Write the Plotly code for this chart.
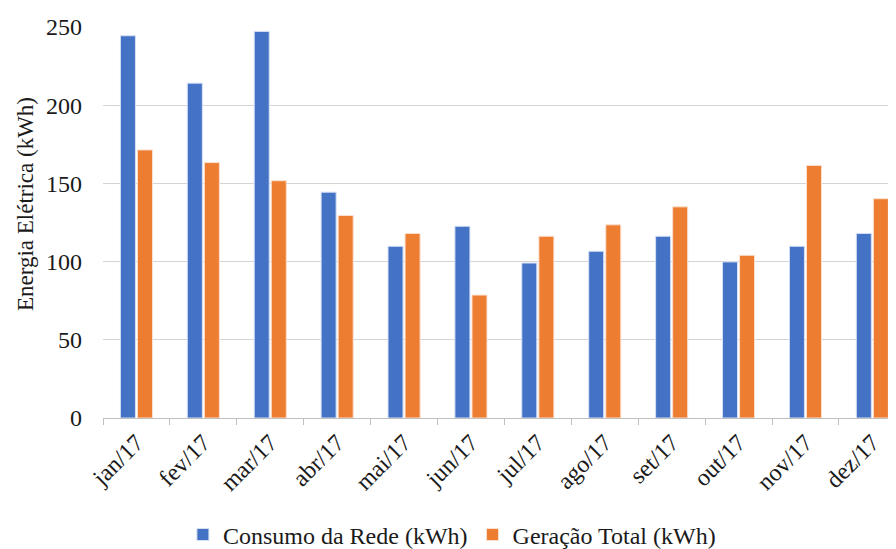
import plotly.graph_objects as go

months = ["jan/17", "fev/17", "mar/17", "abr/17", "mai/17", "jun/17",
          "jul/17", "ago/17", "set/17", "out/17", "nov/17", "dez/17"]
consumo = [244.4, 214.1, 247.2, 144.4, 109.8, 122.6, 99.1, 106.6, 116.2, 99.8, 109.8, 118.0]
geracao = [171.4, 163.3, 151.7, 129.5, 118.0, 78.6, 116.2, 123.5, 135.0, 104.0, 161.5, 140.2]
yticks = [0, 50, 100, 150, 200, 250]

FONT = "Liberation Serif"

fig = go.Figure()
fig.add_trace(go.Bar(x=months, y=consumo, name="Consumo da Rede (kWh)",
                     marker=dict(color="#4472C4", line=dict(color="#d6e0f5", width=1))))
fig.add_trace(go.Bar(x=months, y=geracao, name="Geração Total (kWh)",
                     marker=dict(color="#ED7D31", line=dict(color="#fbe0cf", width=1))))

# page body has an 8px margin, so the figure is sized to the visible area
W, H = 888, 541
plot_left, plot_right = 95, 888
cat_w = 66.9
extra = (plot_right - plot_left) / cat_w - 12  # fraction of categories visible

fig.update_layout(
    width=W, height=H,
    margin=dict(l=plot_left, r=0, t=19, b=131, pad=0, autoexpand=False),
    paper_bgcolor="white", plot_bgcolor="white",
    font=dict(family=FONT, size=24, color="#1a1a1a"),
    barmode="group", bargap=0.49, bargroupgap=0.12,
    showlegend=True,
    legend=dict(orientation="h", xref="paper", yref="paper",
                x=0.44, xanchor="center", y=-0.299, yanchor="middle",
                font=dict(family=FONT, size=24, color="#1a1a1a"),
                itemwidth=30, tracegroupgap=0),
    xaxis=dict(type="category", range=[-0.5, 11.5 + extra], automargin=False,
               tickangle=-45, ticks="outside", tickson="boundaries",
               ticklen=6, tickcolor="#bfbfbf", tickwidth=1,
               showline=True, linecolor="#bfbfbf", linewidth=1,
               showgrid=False, tickfont=dict(family=FONT, size=24)),
    yaxis=dict(range=[0, 250], tickvals=yticks, showgrid=True, automargin=False,
               gridcolor="#d4d4d4", gridwidth=1, zeroline=False,
               showline=False, ticks="", ticklabelstandoff=20,
               tickfont=dict(family=FONT, size=24)),
    annotations=[dict(text="Energia Elétrica (kWh)", textangle=-90,
                      xref="paper", yref="paper", x=-(plot_left - 17) / (plot_right - plot_left),
                      y=0.547, xanchor="center", yanchor="middle", showarrow=False,
                      font=dict(family=FONT, size=23, color="#1a1a1a"))],
)

fig.write_html("out.html")
